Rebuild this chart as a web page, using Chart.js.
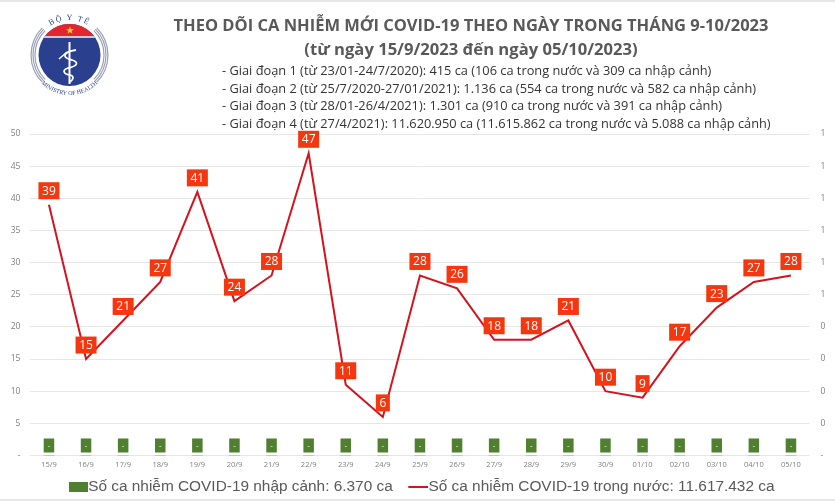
<!DOCTYPE html>
<html>
<head>
<meta charset="utf-8">
<script src="https://cdn.jsdelivr.net/npm/chart.js@4/dist/chart.umd.js"></script>
<style>
html, body { margin: 0; padding: 0; background: #fff; }
#wrap { position: relative; width: 835px; height: 501px; overflow: hidden; font-family: "Open Sans", sans-serif; }
#wrap canvas { position: absolute; left: 0; top: 0; }
.edge { position: absolute; left: 0; width: 835px; height: 2px; background: #e6e6e6; }
#logo { position: absolute; left: 25px; top: 14px; }
.title { position: absolute; left: 71px; width: 800px; text-align: center; font-weight: 700; color: #595959; white-space: nowrap; }
.period { position: absolute; left: 222px; font-size: 12.8px; color: #333; white-space: nowrap; line-height: 18px; }
</style>
</head>
<body>
<div id="wrap">
  <canvas id="chart" width="835" height="501"></canvas>
  <div class="edge" style="top:0"></div>
  <div class="edge" style="top:499px"></div>

  <svg id="logo" width="90" height="84" viewBox="25 14 90 84">
    <defs>
      <path id="arcTop" d="M 34.5 55 A 35 35 0 0 1 104.5 55"/>
      <path id="arcBottom" d="M 29.5 55 A 40 40 0 0 0 109.5 55"/>
      <clipPath id="disc"><circle cx="69.5" cy="55" r="31"/></clipPath>
    </defs>
    <g fill="none" stroke="#9aa0b5" stroke-width="1.2">
      <path d="M 45.1 30.6 A 34.5 34.5 0 0 0 45.1 79.4"/><path d="M 43.7 29.2 A 36.5 36.5 0 0 0 43.7 80.8"/><path d="M 42.3 27.8 A 38.5 38.5 0 0 0 42.3 82.2"/>
      <path d="M 93.9 30.6 A 34.5 34.5 0 0 1 93.9 79.4"/><path d="M 95.3 29.2 A 36.5 36.5 0 0 1 95.3 80.8"/><path d="M 96.7 27.8 A 38.5 38.5 0 0 1 96.7 82.2"/>
    </g>
    <circle cx="69.5" cy="55" r="31" fill="#2b3f8f"/>
    <g clip-path="url(#disc)">
      <rect x="35" y="20" width="70" height="16" fill="#e3262e"/>
      <rect x="35" y="36" width="70" height="2" fill="#c9c9d6"/>
    </g>
    <polygon points="70,26.5 71,29.3 74,29.3 71.6,31 72.5,33.8 70,32.1 67.5,33.8 68.4,31 66,29.3 69,29.3" fill="#f5d327"/>
    <g fill="none" stroke="#fff">
      <path d="M 69.5 42 L 69.5 84" stroke-width="2"/>
      <path d="M 76 50 C 62 52 62 58 72 60 C 79 62 78 66 68 68 C 62 70 63 74 70 75 C 74 76 74 79 70 82" stroke-width="1.8"/>
      <path d="M 59 59 L 67 52" stroke-width="1.5"/>
    </g>
    <text font-family="Liberation Serif, serif" font-size="8" fill="#2b3f8f" letter-spacing="1.5"><textPath href="#arcTop" startOffset="50%" text-anchor="middle">BỘ Y TẾ</textPath></text>
    <text font-family="Liberation Serif, serif" font-size="6" fill="#2b3f8f"><textPath href="#arcBottom" startOffset="50%" text-anchor="middle">MINISTRY OF HEALTH</textPath></text>
  </svg>

  <div class="title" style="top:13px;font-size:16.5px">THEO DÕI CA NHIỄM MỚI COVID-19 THEO NGÀY TRONG THÁNG 9-10/2023</div>
  <div class="title" style="top:37px;font-size:16.6px">(từ ngày 15/9/2023 đến ngày 05/10/2023)</div>
  <div class="period" style="top:61px">- Giai đoạn 1 (từ 23/01-24/7/2020): 415 ca (106 ca trong nước và 309 ca nhập cảnh)</div>
  <div class="period" style="top:79px">- Giai đoạn 2 (từ 25/7/2020-27/01/2021): 1.136 ca (554 ca trong nước và 582 ca nhập cảnh)</div>
  <div class="period" style="top:96px">- Giai đoạn 3 (từ 28/01-26/4/2021): 1.301 ca (910 ca trong nước và 391 ca nhập cảnh)</div>
  <div class="period" style="top:114px">- Giai đoạn 4 (từ 27/4/2021): 11.620.950 ca (11.615.862 ca trong nước và 5.088 ca nhập cảnh)</div>
</div>

<script>
const days = ['15/9', '16/9', '17/9', '18/9', '19/9', '20/9', '21/9', '22/9', '23/9', '24/9', '25/9',
  '26/9', '27/9', '28/9', '29/9', '30/9', '01/10', '02/10', '03/10', '04/10', '05/10'];
const domesticCases = [39, 15, 21, 27, 41, 24, 28, 47, 11, 6, 28, 26, 18, 18, 21, 10, 9, 17, 23, 27, 28];
const importedCases = [0, 0, 0, 0, 0, 0, 0, 0, 0, 0, 0, 0, 0, 0, 0, 0, 0, 0, 0, 0, 0];
const leftTicks = ['-', '5', '10', '15', '20', '25', '30', '35', '40', '45', '50'];
const rightTicks = ['-', '0', '0', '0', '0', '1', '1', '1', '1', '1', '1'];
const importedLabel = 'Số ca nhiễm COVID-19 nhập cảnh: 6.370 ca';
const domesticLabel = 'Số ca nhiễm COVID-19 trong nước: 11.617.432 ca';

const GREEN = '#4f7f2f';
const RED = '#d5121e';
const TILE_RED = '#f5370f';
const TEXT_GREY = '#7f7f7f';

// legend symbol, kept at the right edge of its canvas so it sits close to the text
function swatch(w, h, color) {
    const c = document.createElement('canvas');
    c.width = 35;
    c.height = h;
    const ctx = c.getContext('2d');
    ctx.fillStyle = color;
    ctx.fillRect(35 - w, 0, w, h);
    return c;
}

// value tiles: the green ones are the "-" labels of the zero bars
const tileLabels = {
    id: 'tileLabels',
    afterDatasetsDraw(chart) {
        const ctx = chart.ctx;
        ctx.save();
        ctx.textAlign = 'center';
        ctx.textBaseline = 'middle';
        chart.getDatasetMeta(1).data.forEach((pt, i) => {
            const text = String(domesticCases[i]);
            const w = text.length > 1 ? 21 : 14;
            ctx.fillStyle = TILE_RED;
            ctx.fillRect(pt.x - w / 2, pt.y - 22.5, w, 17);
            ctx.fillStyle = '#fff';
            ctx.font = '12px "Open Sans"';
            ctx.fillText(text, pt.x, pt.y - 13.5);
        });
        chart.getDatasetMeta(0).data.forEach((bar) => {
            ctx.fillStyle = GREEN;
            ctx.fillRect(bar.x - 5.25, bar.y - 17, 10.5, 14);
            ctx.fillStyle = '#fff';
            ctx.font = '8px "Open Sans"';
            ctx.fillText('-', bar.x, bar.y - 10);
        });
        ctx.restore();
    }
};

new Chart(document.getElementById('chart'), {
    type: 'bar',
    data: {
        labels: days,
        datasets: [
            { type: 'bar', label: importedLabel, data: importedCases, backgroundColor: GREEN, barThickness: 10.5, yAxisID: 'y', order: 2 },
            { type: 'line', label: domesticLabel, data: domesticCases, borderColor: RED, backgroundColor: RED, borderWidth: 2, tension: 0, pointRadius: 0, yAxisID: 'y', order: 1 }
        ]
    },
    options: {
        responsive: false,
        animation: false,
        layout: { padding: { top: 134, left: 0, right: 0, bottom: -3.9 } },
        plugins: {
            tooltip: { enabled: false },
            title: { display: false },
            legend: {
                position: 'bottom',
                labels: {
                    color: '#595959',
                    font: { family: '"Liberation Sans"', size: 15.4 },
                    usePointStyle: true,
                    pointStyleWidth: 20,
                    padding: 8,
                    generateLabels() {
                        return [
                            { text: importedLabel, pointStyle: swatch(19, 10, GREEN), fontColor: '#595959', lineWidth: 0, strokeStyle: 'transparent', fillStyle: GREEN },
                            { text: domesticLabel, pointStyle: swatch(20, 2, RED), fontColor: '#595959', lineWidth: 0, strokeStyle: 'transparent', fillStyle: RED }
                        ];
                    }
                }
            }
        },
        scales: {
            x: {
                afterFit(scale) { scale.height = 16; },
                grid: { display: false, drawTicks: false },
                border: { display: false },
                ticks: { color: TEXT_GREY, font: { family: '"Open Sans"', size: 7.5 }, maxRotation: 0, autoSkip: false, padding: 5 }
            },
            y: {
                position: 'left',
                min: 0,
                max: 50,
                afterFit(scale) { scale.width = 30.4; },
                grid: { color: '#e6e6e6', drawTicks: false },
                border: { display: false },
                ticks: { stepSize: 5, color: TEXT_GREY, padding: 10, font: { family: '"Open Sans"', size: 8.5 }, callback: (v, i) => leftTicks[i] }
            },
            y1: {
                position: 'right',
                min: 0,
                max: 50,
                afterFit(scale) { scale.width = 25.5; },
                grid: { display: false, drawTicks: false },
                border: { display: false },
                ticks: { stepSize: 5, color: TEXT_GREY, padding: 11, font: { family: '"Open Sans"', size: 8.5 }, callback: (v, i) => rightTicks[i] }
            }
        }
    },
    plugins: [tileLabels]
});
</script>
</body>
</html>
